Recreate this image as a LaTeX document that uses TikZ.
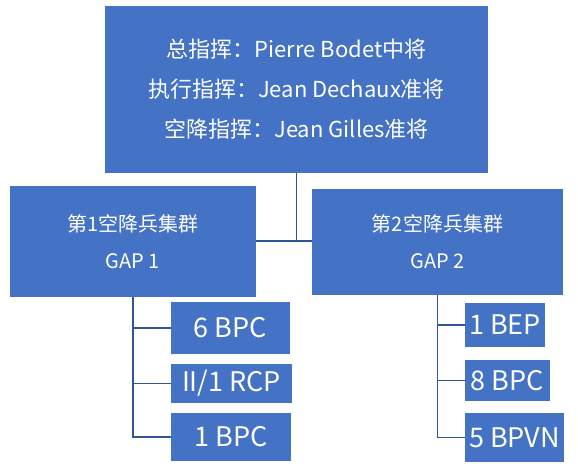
\documentclass[tikz,border=0pt]{standalone}
\usepackage{fontspec}
\setmainfont{Noto Sans CJK SC}
\definecolor{boxblue}{HTML}{4472C4}
\definecolor{linkblue}{HTML}{2F5597}
\usetikzlibrary{positioning}

\tikzset{
  unitbox/.style={fill=boxblue, draw=none, text=white, inner sep=0pt, align=center},
  leafbox/.style={unitbox, font=\fontsize{27}{30}\selectfont},
  link/.style={draw=linkblue, line width=1.2pt}
}

\begin{document}
\begin{tikzpicture}[x=1pt, y=-1pt]
  \useasboundingbox (0,0) rectangle (578,466);

  % command and the two groups
  \node[unitbox, minimum width=383pt, minimum height=167pt, font=\fontsize{22}{40}\selectfont]
    (top) at (296.5,89.5) {总指挥：Pierre Bodet中将\\执行指挥：Jean Dechaux准将\\空降指挥：Jean Gilles准将};
  \node[unitbox, minimum width=246pt, minimum height=111pt, font=\fontsize{20}{37}\selectfont]
    (gap1) at (133,241.5) {第1空降兵集群\\GAP 1};
  \node[unitbox, minimum width=251pt, minimum height=106pt, font=\fontsize{20}{37}\selectfont]
    (gap2) at (437.5,242) {第2空降兵集群\\GAP 2};

  \coordinate (hub) at (top.south |- 0,241);
  \draw[link] (top.south) -- (hub);
  \draw[link] (gap1.east |- hub) -- (gap2.west |- hub);

  % battalions
  \foreach \name/\x/\y/\w/\h/\label/\parent in {
    bpcsix/230.5/328/119/52/6 BPC/gap1,
    rcp/231.5/383.5/121/39/II\slash 1 RCP/gap1,
    bpcone/231/437/120/48/1 BPC/gap1,
    bep/505/325/80/44/1 BEP/gap2,
    bpceight/507.5/380.5/85/41/8 BPC/gap2,
    bpvn/514.5/437.5/99/49/5 BPVN/gap2} {
    \node[leafbox, minimum width=\w pt, minimum height=\h pt] (\name) at (\x,\y) {\label};
    \draw[link] (\parent.south) |- (\name.west);
  }
\end{tikzpicture}
\end{document}
